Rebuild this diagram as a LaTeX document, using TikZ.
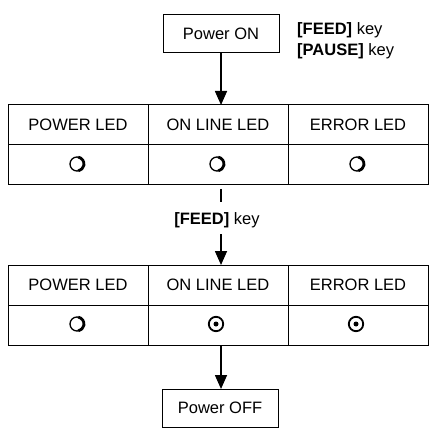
\documentclass[tikz,border=0pt]{standalone}
\usepackage{fontspec}
\setmainfont{Liberation Sans}
\usetikzlibrary{arrows.meta}
\begin{document}
\begin{tikzpicture}[x=1pt,y=-1pt,
  txt/.style={font=\fontsize{16.5}{18}\selectfont, inner sep=0pt},
  box/.style={draw, line width=0.9pt, minimum width=116pt, minimum height=38pt, inner sep=0pt, font=\fontsize{16.5}{18}\selectfont},
  cell/.style={draw, line width=1pt, minimum width=140pt, minimum height=40pt, inner sep=0pt, font=\fontsize{16.5}{18}\selectfont},
  flow/.style={line width=1.6pt, -{Triangle[width=12pt,length=14pt]}},
  off/.pic={\draw[line width=1.3pt] (-1,-1) circle (7);
            \draw[line width=2.8pt] (0.2,-7.9) arc (-80:80:7);},
  on/.pic={\draw[line width=1.8pt] (-2,-1) circle (7.2);
           \fill (-2,-1) circle (2.5);}]
\useasboundingbox (0,0) rectangle (435,435);
% top box
\node[box] (pon) at (221,33.5) {Power ON};
\node[txt, anchor=north west, align=left] (keys) at (297,22) {\textbf{[FEED]} key\\[3pt]\textbf{[PAUSE]} key};
% table 1
\node[cell] (h1a) at (78,125) {POWER LED};
\node[cell] (h1b) at (218,125) {ON LINE LED};
\node[cell] (h1c) at (358,125) {ERROR LED};
\node[cell] (r1a) at (78,165) {};
\node[cell] (r1b) at (218,165) {};
\node[cell] (r1c) at (358,165) {};
\pic at (r1a) {off};
\pic at (r1b) {off};
\pic at (r1c) {off};
% feed label
\coordinate (s1) at (221,189);
\coordinate (s2) at (221,202);
\draw[line width=1.2pt] (s1) -- (s2);
\node[txt] (feed) at (217,220) {\textbf{[FEED]} key};
\coordinate (a1) at (221,234);
% table 2
\node[cell] (h2a) at (78,285) {POWER LED};
\node[cell] (h2b) at (218,285) {ON LINE LED};
\node[cell] (h2c) at (358,285) {ERROR LED};
\node[cell] (r2a) at (78,325) {};
\node[cell] (r2b) at (218,325) {};
\node[cell] (r2c) at (358,325) {};
\pic at (r2a) {off};
\pic at (r2b) {on};
\pic at (r2c) {on};
% bottom box
\node[box] (poff) at (220,408) {Power OFF};
% arrows
\draw[flow] (pon.south -| 221,0) -- (221,105);
\draw[flow] (a1) -- (221,265);
\draw[flow] (221,345) -- (221,389);
\end{tikzpicture}
\end{document}
